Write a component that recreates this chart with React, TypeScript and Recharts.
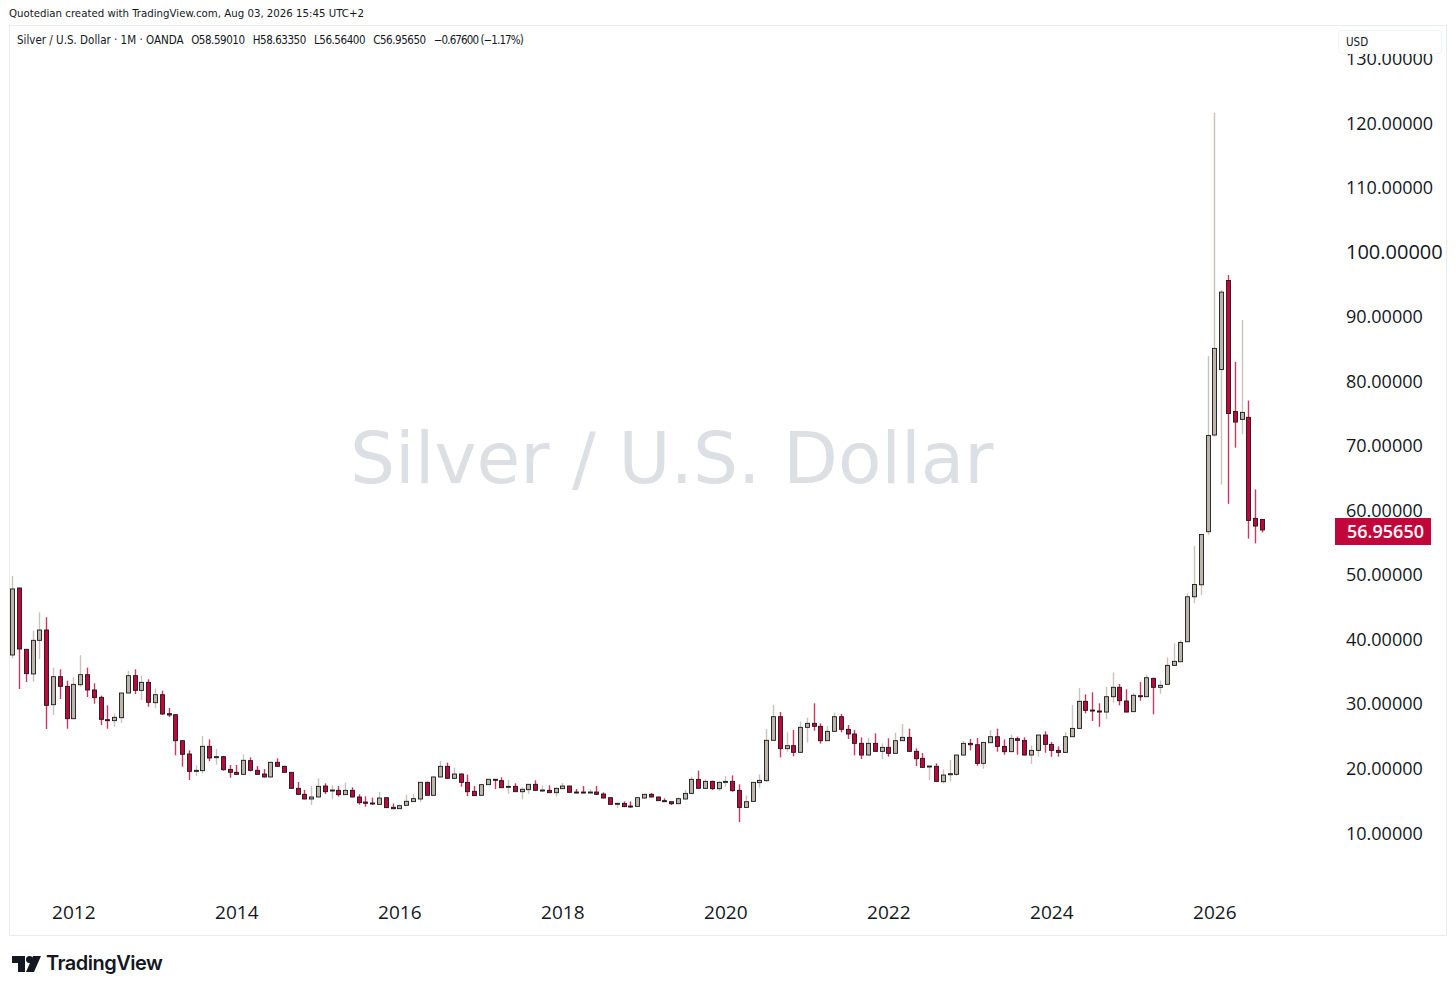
import React from "react";
import { ComposedChart, Bar, XAxis, YAxis } from "recharts";

// monthly candles, Apr 2011 to Aug 2026
const opens = [
  37.58, 47.96, 38.46, 34.64, 39.85, 41.45, 29.88, 34.22, 32.72, 27.71,
  32.98, 34.53, 32.16, 31.02, 27.56, 27.41, 27.87, 31.69, 34.38, 32.1,
  33.34, 30.19, 31.43, 28.49, 28.33, 24.3, 22.24, 19.55, 19.66, 23.43,
  21.67, 21.83, 19.86, 19.4, 19.09, 21.21, 19.71, 19.14, 18.68, 20.95,
  20.33, 19.4, 16.92, 15.99, 15.27, 15.58, 17.28, 16.56, 16.61, 15.94,
  16.61, 15.58, 14.8, 14.65, 14.44, 15.47, 13.98, 13.77, 14.29, 14.86,
  15.27, 17.85, 15.84, 18.68, 20.33, 18.47, 19.14, 17.85, 16.46, 15.84,
  17.49, 18.32, 18.11, 17.13, 17.23, 16.4, 16.71, 17.54, 16.56, 16.61,
  16.25, 16.87, 17.28, 16.35, 16.35, 16.25, 16.35, 16.04, 15.47, 14.55,
  14.59, 14.18, 14.13, 15.42, 15.99, 15.58, 15.01, 14.85, 14.54, 15.27,
  16.14, 18.31, 16.92, 18.0, 16.87, 17.85, 18.0, 16.61, 13.97, 14.9,
  17.8, 18.11, 24.36, 28.02, 23.07, 23.53, 22.5, 26.37, 26.99, 26.53,
  24.3, 25.75, 28.02, 26.06, 25.34, 23.89, 22.08, 23.89, 22.65, 23.27,
  22.34, 24.3, 24.82, 22.65, 21.57, 20.27, 20.33, 17.95, 19.03, 19.09,
  22.08, 23.89, 23.68, 20.79, 23.99, 24.92, 23.42, 22.6, 24.61, 24.35,
  22.08, 22.8, 25.18, 23.73, 22.8, 22.49, 24.92, 26.21, 30.4, 29.05,
  28.9, 28.74, 31.12, 32.57, 30.45, 28.8, 31.27, 31.12, 33.96, 32.57,
  33.03, 35.97, 36.53, 39.63, 46.6, 48.46, 56.68, 71.66, 81.8, 95.6,
  75.3, 74.08, 74.4, 58.74, 58.59,
];
const highs = [
  49.82, 48.01, 38.51, 41.35, 44.19, 43.42, 35.62, 35.36, 33.6, 34.12,
  37.53, 35.62, 33.19, 31.28, 29.78, 28.49, 31.74, 35.1, 35.36, 34.38,
  33.81, 32.41, 32.05, 29.37, 28.39, 24.36, 22.81, 20.48, 25.03, 24.51,
  23.01, 21.93, 20.54, 20.54, 22.19, 21.72, 20.38, 19.91, 21.05, 21.57,
  20.43, 19.45, 17.9, 16.66, 17.28, 18.47, 17.7, 17.39, 17.28, 17.8,
  17.08, 15.99, 15.68, 15.47, 16.35, 15.53, 14.55, 14.39, 15.94, 16.04,
  17.9, 17.95, 18.73, 21.16, 20.9, 20.12, 19.25, 19.04, 17.28, 17.55,
  18.37, 18.37, 18.63, 18.21, 17.7, 17.08, 17.59, 18.16, 17.33, 17.39,
  17.08, 17.75, 17.33, 16.82, 17.28, 16.77, 17.28, 16.3, 15.53, 14.65,
  14.9, 14.9, 15.52, 16.04, 16.2, 15.63, 15.37, 14.9, 15.47, 16.66,
  18.72, 19.66, 18.31, 18.11, 18.0, 18.83, 18.93, 17.54, 15.83, 17.9,
  19.09, 26.11, 29.83, 28.75, 25.6, 25.96, 27.3, 27.87, 30.09, 26.99,
  26.58, 28.64, 28.44, 26.73, 25.96, 24.82, 24.77, 25.44, 23.89, 24.67,
  25.54, 26.89, 26.16, 23.12, 22.39, 20.38, 20.79, 19.86, 21.31, 22.13,
  24.25, 24.56, 24.72, 24.1, 25.96, 26.16, 24.51, 25.23, 24.92, 24.82,
  23.58, 25.23, 25.75, 24.1, 23.42, 25.64, 29.83, 32.46, 31.48, 31.79,
  30.09, 32.67, 34.89, 33.08, 32.26, 31.74, 33.39, 34.53, 34.06, 33.6,
  37.21, 39.4, 39.85, 47.12, 54.5, 56.3, 83.9, 121.6, 94.1, 96.44,
  83.0, 89.47, 77.0, 63.24, 58.6335,
];
const lows = [
  37.06, 32.31, 33.4, 33.45, 36.96, 26.11, 28.28, 30.76, 26.16, 27.71,
  32.67, 31.07, 30.04, 26.73, 26.16, 26.47, 27.04, 31.64, 31.54, 30.61,
  29.57, 29.32, 28.28, 27.97, 22.03, 20.28, 18.21, 18.83, 19.24, 21.15,
  20.59, 19.66, 18.57, 19.04, 19.04, 19.55, 18.99, 18.62, 18.62, 20.28,
  19.35, 16.87, 15.94, 15.22, 14.34, 15.53, 16.04, 15.27, 15.63, 15.89,
  15.53, 14.39, 14.08, 14.34, 14.39, 13.87, 13.67, 13.72, 14.23, 14.8,
  14.8, 15.79, 15.79, 18.63, 18.42, 18.42, 17.18, 15.73, 15.73, 15.79,
  17.44, 16.82, 16.97, 16.09, 16.35, 15.22, 16.04, 16.56, 16.35, 16.2,
  15.63, 16.82, 16.25, 16.15, 16.15, 16.2, 15.94, 15.37, 14.39, 13.87,
  14.03, 13.92, 14.08, 15.37, 15.52, 14.96, 14.8, 14.34, 14.49, 15.21,
  16.09, 16.87, 16.87, 16.66, 16.56, 17.18, 16.4, 11.7, 13.87, 14.85,
  17.02, 17.9, 24.3, 21.72, 22.6, 21.88, 22.45, 24.0, 25.85, 23.84,
  24.25, 25.7, 25.6, 24.56, 22.03, 21.46, 22.03, 22.6, 21.46, 21.82,
  22.29, 24.25, 22.6, 20.38, 20.12, 18.21, 17.95, 17.69, 18.0, 18.88,
  21.98, 22.8, 20.43, 19.96, 23.94, 22.6, 22.13, 22.55, 22.13, 22.03,
  20.69, 21.82, 22.44, 21.82, 21.82, 22.44, 24.87, 26.16, 28.54, 27.35,
  26.47, 27.61, 30.19, 29.78, 28.69, 28.74, 30.5, 31.07, 28.38, 31.58,
  32.98, 35.9, 36.48, 39.58, 45.6, 46.86, 56.2, 71.4, 64.0, 61.0,
  69.7, 71.8, 55.6, 54.87, 56.564,
];
const closes = [
  47.81, 38.51, 34.69, 39.85, 41.45, 29.78, 34.22, 32.72, 27.71, 33.03,
  34.53, 32.16, 30.97, 27.61, 27.46, 27.92, 31.69, 34.38, 32.1, 33.34,
  30.25, 31.43, 28.44, 28.28, 24.3, 22.19, 19.55, 19.71, 23.43, 21.62,
  21.83, 19.81, 19.4, 19.09, 21.26, 19.71, 19.09, 18.68, 20.95, 20.33,
  19.4, 16.92, 15.99, 15.27, 15.58, 17.23, 16.4, 16.66, 15.94, 16.61,
  15.58, 14.7, 14.6, 14.55, 15.42, 13.93, 13.77, 14.23, 14.91, 15.32,
  17.85, 15.84, 18.68, 20.33, 18.47, 19.14, 17.85, 16.4, 15.79, 17.49,
  18.32, 18.21, 17.02, 17.23, 16.4, 16.77, 17.54, 16.61, 16.66, 16.25,
  16.92, 17.28, 16.3, 16.25, 16.25, 16.35, 15.99, 15.42, 14.44, 14.6,
  14.08, 14.03, 15.47, 15.99, 15.58, 15.01, 14.85, 14.54, 15.32, 16.14,
  18.31, 16.92, 18.0, 16.87, 17.85, 18.0, 16.56, 13.97, 14.85, 17.85,
  18.16, 24.36, 28.02, 23.07, 23.53, 22.5, 26.37, 26.99, 26.53, 24.3,
  25.75, 28.02, 26.06, 25.34, 23.89, 22.08, 23.89, 22.65, 23.27, 22.34,
  24.3, 24.82, 22.65, 21.51, 20.17, 20.38, 18.0, 18.98, 19.19, 22.08,
  23.89, 23.68, 20.79, 24.04, 24.92, 23.42, 22.6, 24.66, 24.35, 22.08,
  22.8, 25.18, 23.73, 22.8, 22.49, 24.92, 26.21, 30.4, 29.0, 28.95,
  28.74, 31.12, 32.57, 30.5, 28.74, 31.33, 31.12, 34.06, 32.57, 32.88,
  35.97, 36.6, 39.53, 46.6, 48.5, 56.26, 71.6, 85.08, 93.8, 75.0,
  73.67, 75.17, 58.43, 57.56, 56.9565,
];

const priceTicks = [10, 20, 30, 40, 50, 60, 70, 80, 90, 100, 110, 120, 130];
const yearTicks = [9, 33, 57, 81, 105, 129, 153, 177];
const yearLabels = ["2012", "2014", "2016", "2018", "2020", "2022", "2024", "2026"];

const UP = "#bcb5ac";
const DOWN = "#c2063c";
const AXIS_FONT = "'Open Sans', sans-serif";
const SMALL_FONT = "'DejaVu Sans Condensed', 'DejaVu Sans'";

const candles = opens.map((open, i) => ({
  i,
  open,
  high: highs[i],
  low: lows[i],
  close: closes[i],
  range: [lows[i], highs[i]],
}));

function Candle(props: any) {
  const { x, y, width, height, payload } = props;
  const perUnit = height / (payload.high - payload.low);
  const at = (v: number) => y + (payload.high - v) * perUnit;
  const color = payload.close >= payload.open ? UP : DOWN;
  const mid = Math.floor(x + width / 2) + 0.5;
  const top = at(Math.max(payload.open, payload.close));
  const bottom = at(Math.min(payload.open, payload.close));
  return (
    <g>
      <line x1={mid} x2={mid} y1={y} y2={y + height} stroke={color} strokeWidth={1.4} opacity={0.8} />
      <rect x={mid - 2} y={top} width={4} height={Math.max(bottom - top, 1)} fill={color} stroke="#1a1a1a" strokeWidth={0.9} />
    </g>
  );
}

function PriceTick(props: any) {
  const { x, y, payload } = props;
  const big = payload.value === 100;
  return (
    <text x={x} y={y} dy={6.5} textAnchor="start" fontFamily={AXIS_FONT} fontSize={big ? 20 : 18} fontWeight={big ? 500 : 400} fill="#131722">
      {payload.value.toFixed(5)}
    </text>
  );
}

function Logo() {
  return (
    <svg x="0" y="0" width="30" height="16" viewBox="0 0 30 16" style={{ position: "absolute", left: 12, top: 956 }}>
      <path d="M0 0H13V16H6V7H0Z" fill="#131722" />
      <circle cx="17.5" cy="3.5" r="3.5" fill="#131722" />
      <path d="M21 0H29L22 16H14Z" fill="#131722" />
    </svg>
  );
}

export default function App() {
  return (
    <div style={{ position: "absolute", left: 0, top: 0, width: 1456, height: 992, background: "#fff", overflow: "hidden" }}>
      <div style={{ position: "absolute", left: 9, top: 6, fontFamily: SMALL_FONT, fontSize: 11.35, color: "#131722", whiteSpace: "nowrap" }}>
        Quotedian created with TradingView.com, Aug 03, 2026 15:45 UTC+2
      </div>
      <div style={{ position: "absolute", left: 9, top: 25, width: 1436, height: 909, border: "1px solid #e9ebef" }} />
      <div style={{ position: "absolute", left: 350, top: 417, fontFamily: "'DejaVu Sans'", fontSize: 71, color: "#dcdfe3", whiteSpace: "nowrap" }}>
        Silver / U.S. Dollar
      </div>
      <div style={{ position: "absolute", left: 0, top: 0 }}>
        <ComposedChart width={1456} height={992} data={candles} margin={{ top: 26, right: 10, bottom: 57, left: 10 }}>
          <XAxis
            dataKey="i"
            type="number"
            domain={[-0.4, 194.7]}
            ticks={yearTicks}
            tickFormatter={(v: number) => yearLabels[yearTicks.indexOf(v)]}
            allowDataOverflow
            axisLine={false}
            tickLine={false}
            height={45}
            tickMargin={10}
            tick={{ fontFamily: AXIS_FONT, fontSize: 19, fill: "#131722" }}
          />
          <YAxis
            orientation="right"
            type="number"
            domain={[1.17, 135.03]}
            ticks={priceTicks}
            allowDataOverflow
            interval={0}
            axisLine={false}
            tickLine={false}
            width={111}
            tickMargin={5}
            tick={<PriceTick />}
          />
          <Bar dataKey="range" barSize={5} shape={<Candle />} isAnimationActive={false} />
        </ComposedChart>
      </div>
      <div style={{ position: "absolute", left: 17, top: 33, fontFamily: SMALL_FONT, fontSize: 11.5, color: "#131722", whiteSpace: "nowrap" }}>
        Silver / U.S. Dollar · 1M · OANDA&nbsp;{" "}
        <span style={{ letterSpacing: -0.45, wordSpacing: 5.3, marginLeft: 1 }}>
          O58.59010 H58.63350 L56.56400 C56.95650{" "}
        </span>
        <span style={{ letterSpacing: -0.9 }}>−0.67600 (−1.17%)</span>
      </div>
      <div style={{ position: "absolute", left: 1338, top: 30, width: 102, height: 22, background: "#fff", border: "1px solid #f0f3fa", borderRadius: 4, fontFamily: SMALL_FONT, fontSize: 11.5, color: "#131722", lineHeight: "23px", textIndent: 7 }}>
        USD
      </div>
      <div style={{ position: "absolute", left: 1335, top: 518, width: 96, height: 27, background: DOWN, color: "#fff", fontFamily: AXIS_FONT, fontSize: 18, fontWeight: 600, lineHeight: "27px", textIndent: 12 }}>
        56.95650
      </div>
      <Logo />
      <div style={{ position: "absolute", left: 46, top: 951, fontFamily: "Inter, sans-serif", fontSize: 20, fontWeight: 600, color: "#131722", letterSpacing: -0.5 }}>
        TradingView
      </div>
    </div>
  );
}
